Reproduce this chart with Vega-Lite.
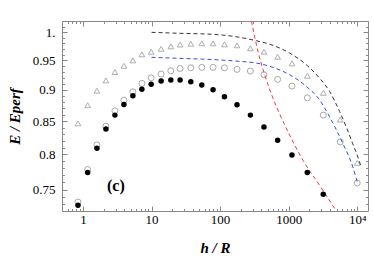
{
  "$schema": "https://vega.github.io/schema/vega-lite/v6.json",
  "width": 306,
  "height": 190,
  "autosize": "none",
  "padding": {"left": 62, "top": 21, "right": 6, "bottom": 47},
  "background": "white",
  "view": {"stroke": "#888", "strokeWidth": 1},
  "config": {
    "axis": {
      "grid": false,
      "domainColor": "#888",
      "tickColor": "#888",
      "labelFont": "Times New Roman, Liberation Serif, serif",
      "labelFontSize": 13,
      "labelColor": "black",
      "titleFont": "Times New Roman, Liberation Serif, serif",
      "titleFontSize": 15,
      "titleFontWeight": "bold",
      "titleFontStyle": "italic",
      "titleColor": "black"
    }
  },
  "datasets": {
    "pts": [
      {"h": 0.846, "E": 0.7288, "s": "filled"},
      {"h": 1.171, "E": 0.7738, "s": "filled"},
      {"h": 1.599, "E": 0.809, "s": "filled"},
      {"h": 2.162, "E": 0.8381, "s": "filled"},
      {"h": 2.924, "E": 0.8595, "s": "filled"},
      {"h": 3.956, "E": 0.8764, "s": "filled"},
      {"h": 5.35, "E": 0.8905, "s": "filled"},
      {"h": 7.23, "E": 0.901, "s": "filled"},
      {"h": 9.88, "E": 0.9093, "s": "filled"},
      {"h": 13.81, "E": 0.9147, "s": "filled"},
      {"h": 19.12, "E": 0.9164, "s": "filled"},
      {"h": 26.12, "E": 0.9164, "s": "filled"},
      {"h": 37.4, "E": 0.9135, "s": "filled"},
      {"h": 54.1, "E": 0.9081, "s": "filled"},
      {"h": 79.0, "E": 0.9003, "s": "filled"},
      {"h": 115.8, "E": 0.8887, "s": "filled"},
      {"h": 176.6, "E": 0.8758, "s": "filled"},
      {"h": 276.8, "E": 0.8595, "s": "filled"},
      {"h": 436.6, "E": 0.8412, "s": "filled"},
      {"h": 691, "E": 0.821, "s": "filled"},
      {"h": 1117, "E": 0.7991, "s": "filled"},
      {"h": 1872, "E": 0.7738, "s": "filled"},
      {"h": 3200, "E": 0.7436, "s": "filled"},
      {"h": 0.846, "E": 0.7332, "s": "open"},
      {"h": 1.171, "E": 0.7781, "s": "open"},
      {"h": 1.599, "E": 0.8139, "s": "open"},
      {"h": 2.162, "E": 0.8423, "s": "open"},
      {"h": 2.924, "E": 0.8662, "s": "open"},
      {"h": 3.956, "E": 0.8833, "s": "open"},
      {"h": 5.35, "E": 0.897, "s": "open"},
      {"h": 7.23, "E": 0.9108, "s": "open"},
      {"h": 9.88, "E": 0.9202, "s": "open"},
      {"h": 13.81, "E": 0.9265, "s": "open"},
      {"h": 19.12, "E": 0.9321, "s": "open"},
      {"h": 26.12, "E": 0.9359, "s": "open"},
      {"h": 37.4, "E": 0.9372, "s": "open"},
      {"h": 54.1, "E": 0.9379, "s": "open"},
      {"h": 79.0, "E": 0.9379, "s": "open"},
      {"h": 115.8, "E": 0.9372, "s": "open"},
      {"h": 176.6, "E": 0.9345, "s": "open"},
      {"h": 276.8, "E": 0.9316, "s": "open"},
      {"h": 436.6, "E": 0.9253, "s": "open"},
      {"h": 691, "E": 0.9175, "s": "open"},
      {"h": 1117, "E": 0.9064, "s": "open"},
      {"h": 1872, "E": 0.8871, "s": "open"},
      {"h": 3200, "E": 0.8595, "s": "open"},
      {"h": 5660, "E": 0.8184, "s": "open"},
      {"h": 10000, "E": 0.7592, "s": "open"},
      {"h": 0.846, "E": 0.8466, "s": "tri"},
      {"h": 1.171, "E": 0.8752, "s": "tri"},
      {"h": 1.599, "E": 0.8987, "s": "tri"},
      {"h": 2.162, "E": 0.9158, "s": "tri"},
      {"h": 2.924, "E": 0.9299, "s": "tri"},
      {"h": 3.956, "E": 0.9406, "s": "tri"},
      {"h": 5.35, "E": 0.95, "s": "tri"},
      {"h": 7.23, "E": 0.9605, "s": "tri"},
      {"h": 9.88, "E": 0.9651, "s": "tri"},
      {"h": 13.81, "E": 0.9704, "s": "tri"},
      {"h": 19.12, "E": 0.9747, "s": "tri"},
      {"h": 26.12, "E": 0.9779, "s": "tri"},
      {"h": 37.4, "E": 0.9793, "s": "tri"},
      {"h": 54.1, "E": 0.9801, "s": "tri"},
      {"h": 79.0, "E": 0.9801, "s": "tri"},
      {"h": 115.8, "E": 0.9782, "s": "tri"},
      {"h": 176.6, "E": 0.9765, "s": "tri"},
      {"h": 276.8, "E": 0.9711, "s": "tri"},
      {"h": 436.6, "E": 0.9651, "s": "tri"},
      {"h": 691, "E": 0.9563, "s": "tri"},
      {"h": 1117, "E": 0.9448, "s": "tri"},
      {"h": 1872, "E": 0.9236, "s": "tri"},
      {"h": 3200, "E": 0.8953, "s": "tri"},
      {"h": 5660, "E": 0.8524, "s": "tri"},
      {"h": 10000, "E": 0.7876, "s": "tri"}
    ],
    "curves": [
      {"h": 10, "E": 1.0, "c": "black"},
      {"h": 25.9, "E": 0.99817, "c": "black"},
      {"h": 78.2, "E": 0.99634, "c": "black"},
      {"h": 193.3, "E": 0.99088, "c": "black"},
      {"h": 338.4, "E": 0.9847, "c": "black"},
      {"h": 590.4, "E": 0.9765, "c": "black"},
      {"h": 1034, "E": 0.9627, "c": "black"},
      {"h": 1809, "E": 0.9424, "c": "black"},
      {"h": 2827, "E": 0.9196, "c": "black"},
      {"h": 3954, "E": 0.8976, "c": "black"},
      {"h": 5527, "E": 0.8653, "c": "black"},
      {"h": 6922, "E": 0.8412, "c": "black"},
      {"h": 8548, "E": 0.8165, "c": "black"},
      {"h": 10210, "E": 0.7963, "c": "black"},
      {"h": 11560, "E": 0.78, "c": "black"},
      {"h": 10, "E": 0.9553, "c": "blue"},
      {"h": 25.9, "E": 0.9535, "c": "blue"},
      {"h": 78.2, "E": 0.9514, "c": "blue"},
      {"h": 193.3, "E": 0.9483, "c": "blue"},
      {"h": 338.4, "E": 0.9453, "c": "blue"},
      {"h": 590.4, "E": 0.9379, "c": "blue"},
      {"h": 1034, "E": 0.9253, "c": "blue"},
      {"h": 1809, "E": 0.9059, "c": "blue"},
      {"h": 2827, "E": 0.8838, "c": "blue"},
      {"h": 3954, "E": 0.8568, "c": "blue"},
      {"h": 6175, "E": 0.8161, "c": "blue"},
      {"h": 8635, "E": 0.7818, "c": "blue"},
      {"h": 10210, "E": 0.7574, "c": "blue"},
      {"h": 286.2, "E": 1.0209, "c": "red"},
      {"h": 357.1, "E": 0.9658, "c": "red"},
      {"h": 447.1, "E": 0.9253, "c": "red"},
      {"h": 590.4, "E": 0.8866, "c": "red"},
      {"h": 764.5, "E": 0.8579, "c": "red"},
      {"h": 1034, "E": 0.8286, "c": "red"},
      {"h": 1615, "E": 0.7915, "c": "red"},
      {"h": 2827, "E": 0.756, "c": "red"},
      {"h": 4949, "E": 0.7213, "c": "red"}
    ],
    "notes": [
      {"h": 3.02, "E": 0.7546, "label": "(c)"}
    ]
  },
  "resolve": {"axis": {"x": "independent", "y": "independent"}},
  "layer": [
    {
      "data": {"name": "curves"},
      "mark": {"type": "line", "strokeDash": [4, 3], "strokeWidth": 1, "interpolate": "monotone", "clip": true},
      "encoding": {
        "x": {"field": "h", "type": "quantitative",
          "scale": {"type": "log", "domain": [0.4945, 14370], "nice": false},
          "axis": {"orient": "top", "labels": false, "title": null, "domain": false,
            "values": [0.5,0.6,0.7,0.8,0.9,1,2,3,4,5,6,7,8,9,10,20,30,40,50,60,70,80,90,100,200,300,400,500,600,700,800,900,1000,2000,3000,4000,5000,6000,7000,8000,9000,10000],
            "tickSize": {"condition": {"test": "indexof([1,10,100,1000,10000], datum.value) >= 0", "value": -5}, "value": -2.5}}},
        "y": {"field": "E", "type": "quantitative",
          "scale": {"type": "log", "domain": [0.7213, 1.0209], "nice": false, "zero": false},
          "axis": {"orient": "right", "labels": false, "title": null, "domain": false,
            "values": [0.73,0.74,0.75,0.76,0.77,0.78,0.79,0.8,0.81,0.82,0.83,0.84,0.85,0.86,0.87,0.88,0.89,0.9,0.91,0.92,0.93,0.94,0.95,0.96,0.97,0.98,0.99,1,1.01,1.02],
            "tickSize": {"condition": {"test": "round(datum.value*100) % 5 == 0", "value": -5}, "value": -2.5}}},
        "color": {"field": "c", "type": "nominal",
          "scale": {"domain": ["black", "blue", "red"], "range": ["#333333", "#3848f0", "#f03a3a"]},
          "legend": null}
      }
    },
    {
      "data": {"name": "pts"},
      "transform": [{"filter": "datum.s == 'tri'"}],
      "mark": {"type": "point", "shape": "triangle-up", "filled": false, "size": 32, "strokeWidth": 0.8, "color": "#707070"},
      "encoding": {
        "x": {"field": "h", "type": "quantitative",
          "axis": {"orient": "bottom", "title": "h / R", "titlePadding": 14, "domain": false,
            "labelPadding": 7,
            "values": [0.5,0.6,0.7,0.8,0.9,1,2,3,4,5,6,7,8,9,10,20,30,40,50,60,70,80,90,100,200,300,400,500,600,700,800,900,1000,2000,3000,4000,5000,6000,7000,8000,9000,10000],
            "labelExpr": "datum.value == 1 ? '1' : datum.value == 10 ? '10' : datum.value == 100 ? '100' : datum.value == 1000 ? '1000' : datum.value == 10000 ? '10⁴' : ''",
            "tickSize": {"condition": {"test": "indexof([1,10,100,1000,10000], datum.value) >= 0", "value": -5}, "value": -2.5}}},
        "y": {"field": "E", "type": "quantitative",
          "axis": {"orient": "left", "title": "E / Eperf", "titlePadding": 10, "domain": false,
            "labelPadding": 12,
            "values": [0.73,0.74,0.75,0.76,0.77,0.78,0.79,0.8,0.81,0.82,0.83,0.84,0.85,0.86,0.87,0.88,0.89,0.9,0.91,0.92,0.93,0.94,0.95,0.96,0.97,0.98,0.99,1,1.01,1.02],
            "labelExpr": "round(datum.value*100) % 5 != 0 ? '' : (datum.value == 1 ? '1.' : '' + datum.value)",
            "tickSize": {"condition": {"test": "round(datum.value*100) % 5 == 0", "value": -5}, "value": -2.5}}}
      }
    },
    {
      "data": {"name": "pts"},
      "transform": [{"filter": "datum.s == 'open'"}],
      "mark": {"type": "point", "shape": "circle", "filled": false, "size": 36, "strokeWidth": 0.8, "color": "#666666"},
      "encoding": {
        "x": {"field": "h", "type": "quantitative", "axis": null},
        "y": {"field": "E", "type": "quantitative", "axis": null}
      }
    },
    {
      "data": {"name": "pts"},
      "transform": [{"filter": "datum.s == 'filled'"}],
      "mark": {"type": "point", "shape": "circle", "filled": true, "size": 30, "opacity": 1, "color": "black"},
      "encoding": {
        "x": {"field": "h", "type": "quantitative", "axis": null},
        "y": {"field": "E", "type": "quantitative", "axis": null}
      }
    },
    {
      "data": {"name": "notes"},
      "mark": {"type": "text", "font": "Times New Roman, Liberation Serif, serif", "fontSize": 16, "fontWeight": "bold", "align": "center", "baseline": "middle", "color": "black"},
      "encoding": {
        "x": {"field": "h", "type": "quantitative", "axis": null},
        "y": {"field": "E", "type": "quantitative", "axis": null},
        "text": {"field": "label"}
      }
    }
  ]
}
